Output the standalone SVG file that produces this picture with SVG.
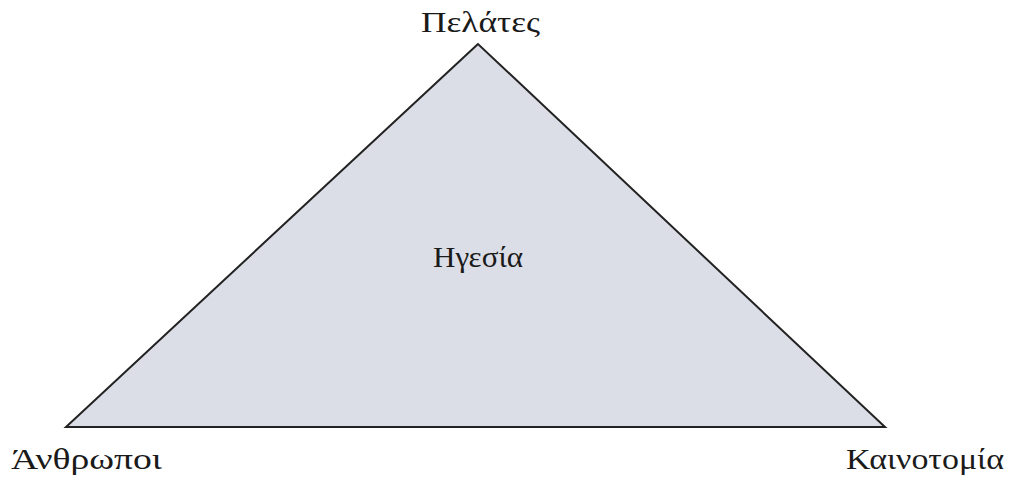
<svg xmlns="http://www.w3.org/2000/svg" width="1010" height="478" viewBox="0 0 1010 478">
<style>
.lbl{font-family:"Liberation Serif","DejaVu Serif",serif;fill:#1a1a1a;font-size:30px}
</style>
<rect width="1010" height="478" fill="#ffffff"/>
<g id="triangle">
<polygon points="478,44 66,427 885,427" fill="#dcdee7" stroke="#222" stroke-width="2" stroke-linejoin="miter"/>
<text class="lbl" x="433" y="267" textLength="90" lengthAdjust="spacingAndGlyphs">Ηγεσία</text>
</g>
<g id="node-customers"><text class="lbl" x="421" y="32" textLength="119" lengthAdjust="spacingAndGlyphs">Πελάτες</text></g>
<g id="node-people"><text class="lbl" x="11" y="469" textLength="151" lengthAdjust="spacingAndGlyphs">Άνθρωποι</text></g>
<g id="node-innovation"><text class="lbl" x="846" y="469" textLength="158" lengthAdjust="spacingAndGlyphs">Καινοτομία</text></g>
<g id="connectors"></g>
</svg>
